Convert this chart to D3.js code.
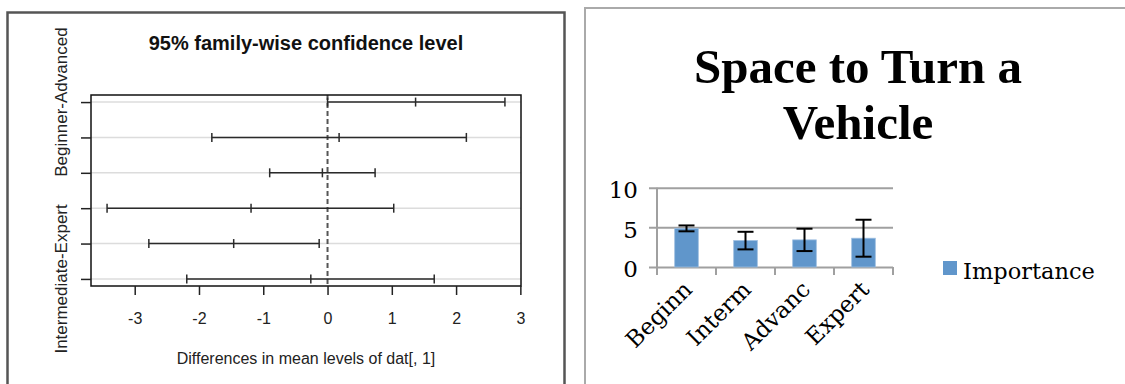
<!DOCTYPE html>
<html>
<head>
<meta charset="utf-8">
<script src="https://cdn.jsdelivr.net/npm/d3@7/dist/d3.min.js"></script>
<style>
  html, body { margin: 0; padding: 0; background: #fff; }
  svg { display: block; }
</style>
</head>
<body>
<svg id="chart" width="1125" height="384"></svg>
<script>
// ---------- Data: left panel (Tukey HSD) ----------
const comparisons = ["Beginner-Advanced", "Expert-Advanced", "Intermediate-Advanced",
                     "Expert-Beginner", "Intermediate-Beginner", "Intermediate-Expert"];
const diffs  = [1.37, 0.18, -0.08, -1.19, -1.46, -0.26];
const lowers = [0.00, -1.80, -0.90, -3.43, -2.78, -2.19];
const uppers = [2.76, 2.16, 0.74, 1.03, -0.13, 1.66];
const shownLabels = ["Beginner-Advanced", "Intermediate-Expert"];
const xTicks = [-3, -2, -1, 0, 1, 2, 3];

// ---------- Data: right panel (bar chart) ----------
const levels = ["Beginn", "Interm", "Advanc", "Expert"];
const importance = [4.87, 3.33, 3.42, 3.63];
const errors = [0.37, 1.11, 1.41, 2.33];
const yTicksR = [0, 5, 10];
const seriesName = "Importance";

const svg = d3.select("#chart");

// ================= LEFT PANEL =================
svg.append("rect").attr("x", 7.5).attr("y", 12.5).attr("width", 557).attr("height", 400)
  .attr("fill", "none").attr("stroke", "#555").attr("stroke-width", 2.5);

const L = { left: 91, right: 521, top: 95, bottom: 286 };
const xL = d3.scaleLinear().domain([-3.68, 3.01]).range([L.left, L.right]);
const yL = d3.scaleLinear().domain([0.8, 6.2]).range([L.top, L.bottom]);
const gL = svg.append("g").attr("font-family", "'Liberation Sans', Arial, sans-serif");

// title
gL.append("text").attr("x", (L.left + L.right) / 2).attr("y", 50)
  .attr("text-anchor", "middle").attr("font-size", 20).attr("font-weight", "bold")
  .attr("fill", "#111").text("95% family-wise confidence level");

// gridlines
gL.selectAll("line.grid").data(comparisons).join("line")
  .attr("class", "grid")
  .attr("x1", L.left).attr("x2", L.right)
  .attr("y1", (d, i) => yL(i + 1)).attr("y2", (d, i) => yL(i + 1))
  .attr("stroke", "#dcdcdc").attr("stroke-width", 1.5);

// zero dashed line
gL.append("line").attr("x1", xL(0)).attr("x2", xL(0)).attr("y1", L.top).attr("y2", L.bottom)
  .attr("stroke", "#555").attr("stroke-width", 2).attr("stroke-dasharray", "5,3");

// intervals
const iv = gL.selectAll("g.iv").data(comparisons).join("g").attr("class", "iv")
  .attr("stroke", "#2a2a2a").attr("stroke-width", 1.5);
iv.append("line")
  .attr("x1", (d, i) => xL(lowers[i])).attr("x2", (d, i) => xL(uppers[i]))
  .attr("y1", (d, i) => yL(i + 1)).attr("y2", (d, i) => yL(i + 1));
[lowers, diffs, uppers].forEach(arr => {
  iv.append("line")
    .attr("x1", (d, i) => xL(arr[i])).attr("x2", (d, i) => xL(arr[i]))
    .attr("y1", (d, i) => yL(i + 1) - 4.5).attr("y2", (d, i) => yL(i + 1) + 4.5);
});

// box
gL.append("rect").attr("x", L.left).attr("y", L.top)
  .attr("width", L.right - L.left).attr("height", L.bottom - L.top)
  .attr("fill", "none").attr("stroke", "#111").attr("stroke-width", 1.5);

// x axis
const xAxisL = d3.axisBottom(xL).tickValues(xTicks).tickSize(9).tickPadding(18)
  .tickFormat(d => d < 0 ? "-" + Math.abs(d) : String(d));
const gx = gL.append("g").attr("transform", `translate(0,${L.bottom})`).call(xAxisL);
gx.select(".domain").remove();
gx.selectAll(".tick line").attr("stroke", "#222").attr("stroke-width", 1.5);
gx.selectAll(".tick text").attr("font-size", 16).attr("fill", "#222")
  .attr("font-family", "'Liberation Sans', Arial, sans-serif");

// y axis
const yAxisL = d3.axisLeft(yL).tickValues(d3.range(1, comparisons.length + 1)).tickSize(10).tickFormat("");
const gy = gL.append("g").attr("transform", `translate(${L.left},0)`).call(yAxisL);
gy.select(".domain").remove();
gy.selectAll(".tick line").attr("stroke", "#222").attr("stroke-width", 1.5);

// y labels (only those that fit, as R draws)
gL.selectAll("text.ylab").data(comparisons.filter(c => shownLabels.includes(c))).join("text")
  .attr("class", "ylab")
  .attr("transform", d => `translate(67,${yL(comparisons.indexOf(d) + 1)}) rotate(-90)`)
  .attr("text-anchor", "middle").attr("font-size", 17).attr("fill", "#222").text(d => d);

// x title
gL.append("text").attr("x", (L.left + L.right) / 2).attr("y", 364)
  .attr("text-anchor", "middle").attr("font-size", 16).attr("fill", "#222")
  .text("Differences in mean levels of dat[, 1]");

// ================= RIGHT PANEL =================
svg.append("rect").attr("x", 585).attr("y", 8).attr("width", 600).attr("height", 420)
  .attr("fill", "none").attr("stroke", "#aaa").attr("stroke-width", 2);

const R = { left: 657, right: 893, top: 187.7, bottom: 267 };
const xR = d3.scaleBand().domain(levels).range([R.left, R.right]).paddingInner(0.6).paddingOuter(0.3);
const xRb = d3.scaleBand().domain(levels).range([R.left, R.right]);
const yR = d3.scaleLinear().domain([0, 10]).range([R.bottom, R.top]);
const serif = "'DejaVu Serif', 'Liberation Serif', serif";
const gR = svg.append("g");

// title
const titleLines = ["Space to Turn a", "Vehicle"];
gR.selectAll("text.title").data(titleLines).join("text")
  .attr("class", "title")
  .attr("x", 858).attr("y", (d, i) => 83 + i * 56)
  .attr("text-anchor", "middle").attr("font-family", "'Liberation Serif', 'Times New Roman', serif")
  .attr("font-weight", "bold").attr("font-size", 49).attr("fill", "#000").text(d => d);

// gridlines + y ticks
const yAxisR = d3.axisLeft(yR).tickValues(yTicksR).tickSize(R.right - R.left + 8).tickPadding(11).tickFormat(d3.format("d"));
const gyR = gR.append("g").attr("transform", `translate(${R.right},0)`).call(yAxisR);
gyR.select(".domain").remove();
gyR.selectAll(".tick line").attr("stroke", "#a0a0a0").attr("stroke-width", 2);
gyR.selectAll(".tick text").attr("font-family", serif).attr("font-size", 23).attr("fill", "#000")
  .attr("dy", "0.42em");

// y axis line
gR.append("line").attr("x1", R.left).attr("x2", R.left).attr("y1", R.top).attr("y2", R.bottom + 8)
  .attr("stroke", "#a0a0a0").attr("stroke-width", 2);

// category ticks
gR.selectAll("line.ctick").data(levels.slice(1).concat(["_end"])).join("line")
  .attr("class", "ctick")
  .attr("x1", d => d === "_end" ? R.right : xRb(d)).attr("x2", d => d === "_end" ? R.right : xRb(d))
  .attr("y1", R.bottom).attr("y2", R.bottom + 8)
  .attr("stroke", "#a0a0a0").attr("stroke-width", 2);

// bars
gR.selectAll("rect.bar").data(levels).join("rect")
  .attr("class", "bar")
  .attr("x", d => xR(d)).attr("width", xR.bandwidth())
  .attr("y", (d, i) => yR(importance[i])).attr("height", (d, i) => R.bottom - yR(importance[i]))
  .attr("fill", "#6096cb").attr("stroke", "#9cbde0").attr("stroke-width", 0.8);

// error bars
const eb = gR.selectAll("g.eb").data(levels).join("g").attr("class", "eb")
  .attr("stroke", "#000").attr("stroke-width", 2);
const cx = d => xR(d) + xR.bandwidth() / 2;
eb.append("line").attr("x1", cx).attr("x2", cx)
  .attr("y1", (d, i) => yR(importance[i] + errors[i])).attr("y2", (d, i) => yR(importance[i] - errors[i]));
[1, -1].forEach(s => {
  eb.append("line").attr("x1", d => cx(d) - 8).attr("x2", d => cx(d) + 8)
    .attr("y1", (d, i) => yR(importance[i] + s * errors[i])).attr("y2", (d, i) => yR(importance[i] + s * errors[i]));
});

// category labels
gR.selectAll("text.cat").data(levels).join("text")
  .attr("class", "cat")
  .attr("transform", d => `translate(${cx(d) + 7},${R.bottom + 24}) rotate(-45)`)
  .attr("text-anchor", "end").attr("font-family", serif).attr("font-size", 23).attr("fill", "#000")
  .text(d => d);

// legend
gR.append("rect").attr("x", 943).attr("y", 261).attr("width", 14).attr("height", 14).attr("fill", "#6096cb");
gR.append("text").attr("x", 963).attr("y", 279).attr("font-family", serif).attr("font-size", 22.5)
  .attr("fill", "#000").text(seriesName);
</script>
</body>
</html>
